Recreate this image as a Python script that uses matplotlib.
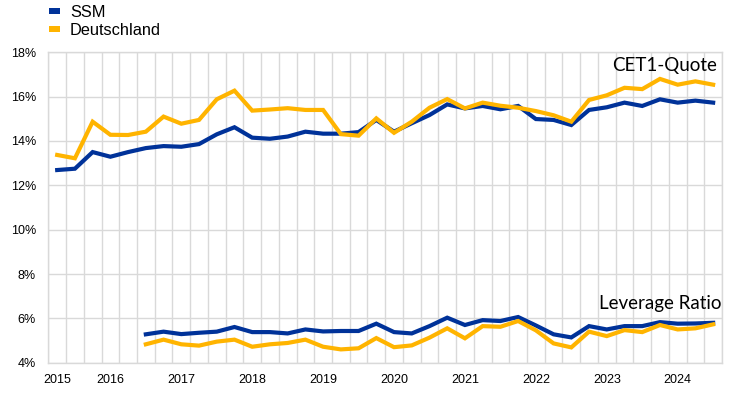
import matplotlib
matplotlib.use("Agg")
import matplotlib.pyplot as plt
from matplotlib.patches import Patch
from matplotlib.ticker import FixedLocator, PercentFormatter
import numpy as np
import pandas as pd

quarters = [str(p) for p in pd.period_range("2015Q2", "2024Q3", freq="Q")]
year_labels = ["2015", "2016", "2017", "2018", "2019", "2020", "2021", "2022", "2023", "2024"]

cet1_ssm = [12.69, 12.75, 13.50, 13.29, 13.50, 13.68, 13.77, 13.74, 13.86, 14.30,
            14.62, 14.15, 14.10, 14.20, 14.42, 14.33, 14.33, 14.40, 14.95, 14.42,
            14.80, 15.17, 15.65, 15.47, 15.58, 15.43, 15.58, 14.99, 14.95, 14.72,
            15.40, 15.52, 15.73, 15.58, 15.88, 15.73, 15.82, 15.73]
cet1_de = [13.37, 13.22, 14.87, 14.28, 14.27, 14.42, 15.10, 14.78, 14.95, 15.88,
           16.27, 15.37, 15.42, 15.48, 15.40, 15.40, 14.31, 14.24, 15.02, 14.37,
           14.87, 15.50, 15.89, 15.47, 15.73, 15.59, 15.50, 15.35, 15.16, 14.87,
           15.85, 16.06, 16.40, 16.34, 16.80, 16.54, 16.69, 16.54]
lev_ssm = [None] * 5 + [5.28, 5.40, 5.29, 5.35, 5.40, 5.61, 5.38, 5.38, 5.32, 5.50,
                        5.41, 5.43, 5.43, 5.76, 5.38, 5.32, 5.65, 6.03, 5.70, 5.92,
                        5.88, 6.06, 5.68, 5.28, 5.14, 5.65, 5.50, 5.65, 5.65, 5.83,
                        5.76, 5.77, 5.80]
lev_de = [None] * 5 + [4.83, 5.04, 4.83, 4.77, 4.95, 5.04, 4.72, 4.83, 4.89, 5.04,
                       4.72, 4.60, 4.65, 5.11, 4.70, 4.78, 5.13, 5.55, 5.10, 5.65,
                       5.62, 5.88, 5.46, 4.87, 4.69, 5.40, 5.20, 5.47, 5.38, 5.70,
                       5.50, 5.55, 5.73]

BLUE = "#003299"
YELLOW = "#FFB400"
GRID = "#d9d9d9"

x = np.arange(len(quarters))
def arr(v):
    return np.array([np.nan if a is None else a for a in v], dtype=float)

fig = plt.figure(figsize=(7.55, 3.93), dpi=100)
ax = fig.add_axes([0.064, 0.0771, 0.8923, 0.7898])

ax.plot(x, arr(cet1_ssm), color=BLUE, lw=3.0, solid_joinstyle="miter", zorder=3)
ax.plot(x, arr(cet1_de), color=YELLOW, lw=3.0, solid_joinstyle="miter", zorder=4)
ax.plot(x, arr(lev_ssm), color=BLUE, lw=3.0, solid_joinstyle="miter", zorder=3)
ax.plot(x, arr(lev_de), color=YELLOW, lw=3.0, solid_joinstyle="miter", zorder=4)

ax.set_xlim(-0.5, len(quarters) - 0.5)
ax.set_ylim(4, 18)
ax.set_yticks(np.arange(4, 19, 2))
ax.yaxis.set_major_formatter(PercentFormatter(decimals=0))

year_pos = [0] + [quarters.index(y + "Q1") for y in year_labels[1:]]
ax.set_xticks(year_pos)
ax.set_xticklabels(year_labels)
ax.xaxis.set_minor_locator(FixedLocator(np.arange(-0.5, len(quarters), 1.0)))

ax.grid(False)
ax.grid(axis="x", which="minor", color=GRID, lw=1.0)
ax.grid(axis="y", which="major", color=GRID, lw=1.0)
ax.set_axisbelow(True)
ax.tick_params(axis="both", which="both", length=0, labelsize=9, colors="black")
ax.tick_params(axis="x", pad=8)
ax.tick_params(axis="y", pad=9)
for s in ax.spines.values():
    s.set_color(GRID)
    s.set_linewidth(1.0)

for lab in ax.get_xticklabels() + ax.get_yticklabels():
    lab.set_family("Liberation Sans")

ax.text(0.9925, 0.957, "CET1-Quote", transform=ax.transAxes, ha="right", va="center",
        fontsize=13.5, family="Lato", color="black")
ax.text(0.9995, 0.19, "Leverage Ratio", transform=ax.transAxes, ha="right", va="center",
        fontsize=13.5, family="Lato", color="black")

handles = [Patch(facecolor=BLUE, edgecolor="none", label="SSM"),
           Patch(facecolor=YELLOW, edgecolor="none", label="Deutschland")]
fig.legend(handles=handles, loc="upper left", bbox_to_anchor=(0.0645, 0.987),
           frameon=False, prop={"family": "Liberation Sans", "size": 11.8},
           handlelength=0.68, handleheight=0.22, handletextpad=0.62,
           labelspacing=0.18, borderaxespad=0, borderpad=0.0)

fig.savefig("out.png", dpi=100)
